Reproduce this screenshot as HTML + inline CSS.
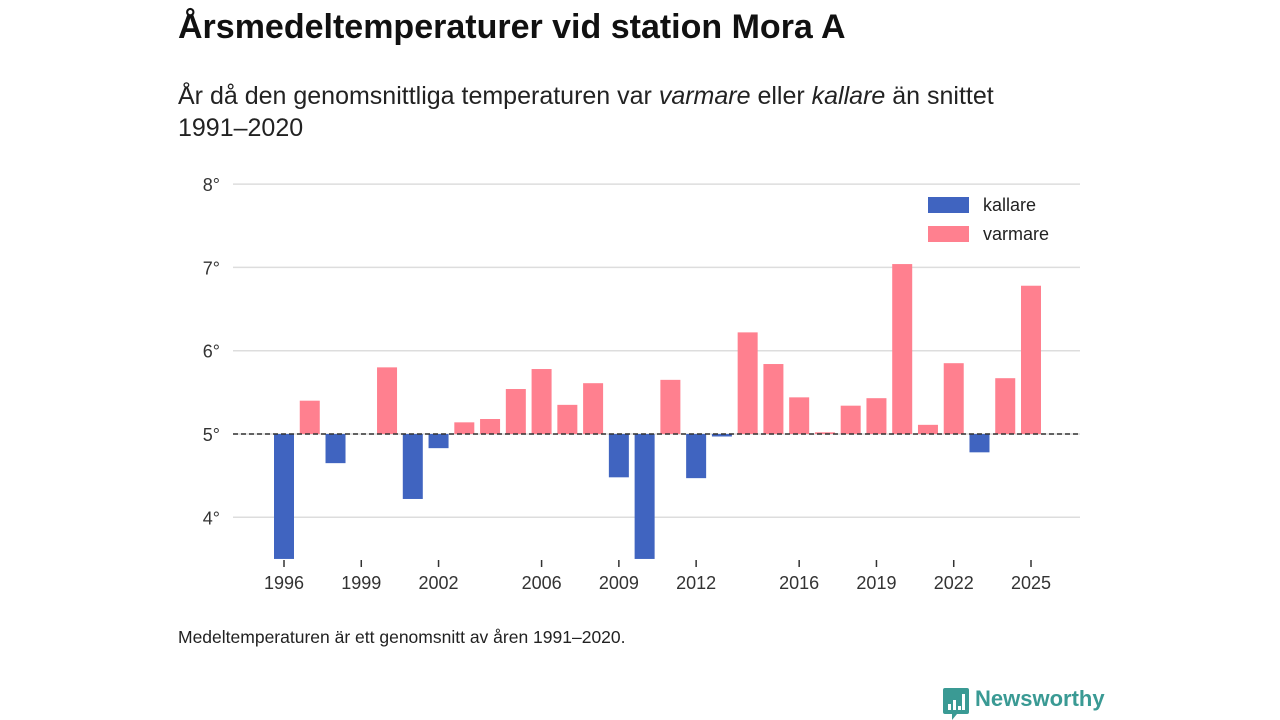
<!DOCTYPE html>
<html><head><meta charset="utf-8"><style>
body{margin:0;width:1280px;height:720px;background:#fff;font-family:"Liberation Sans","DejaVu Sans",sans-serif;color:#222;position:relative;overflow:hidden}
.t{position:absolute;left:178px;top:8px;font-size:34px;font-weight:bold;color:#111}
.s{position:absolute;left:178px;top:80px;font-size:25px;line-height:32px;color:#222;width:860px}
.f{position:absolute;left:178px;top:627px;font-size:17.5px;color:#222}
.logo{position:absolute;left:943px;top:688px;font-size:22px;font-weight:bold;color:#3a9a94;display:flex;align-items:center;gap:6px}
</style></head><body>
<div class="t">Årsmedeltemperaturer vid station Mora A</div>
<div class="s">År då den genomsnittliga temperaturen var <i>varmare</i> eller <i>kallare</i> än snittet 1991–2020</div>
<svg id="c" width="1280" height="720" style="position:absolute;left:0;top:0"></svg>
<div class="f">Medeltemperaturen är ett genomsnitt av åren 1991–2020.</div>
<div class="logo"><svg width="26" height="32" viewBox="0 0 26 32"><path d="M2 0h22a2 2 0 0 1 2 2v22a2 2 0 0 1-2 2H14l-5 6v-6H2a2 2 0 0 1-2-2V2a2 2 0 0 1 2-2z" fill="#3a9a94"/><rect x="5" y="16" width="3" height="6" fill="#fff"/><rect x="10" y="12" width="3" height="10" fill="#fff"/><rect x="15" y="18" width="3" height="4" fill="#fff"/><rect x="19" y="6" width="3" height="16" fill="#fff"/></svg><span style="font-family:'Liberation Sans',sans-serif;font-weight:bold;font-size:22px;margin-top:-10px">Newsworthy</span></div>
<script>
const years=[1996,1997,1998,1999,2000,2001,2002,2003,2004,2005,2006,2007,2008,2009,2010,2011,2012,2013,2014,2015,2016,2017,2018,2019,2020,2021,2022,2023,2024,2025];
const temps=[3.5,5.40,4.65,5.0,5.80,4.22,4.83,5.14,5.18,5.54,5.78,5.35,5.61,4.48,3.5,5.65,4.47,4.97,6.22,5.84,5.44,5.02,5.34,5.43,7.04,5.11,5.85,4.78,5.67,6.78];
const yTicks=[4,5,6,7,8];
const xTicks=[1996,1999,2002,2006,2009,2012,2016,2019,2022,2025];
const mean=5;
const NS="http://www.w3.org/2000/svg",svg=document.getElementById('c');
const x=yr=>284+(yr-1996)*(1031-284)/29;
const y=v=>434-(v-5)*83.3;
const yMin=3.5;
function mk(t,a){const e=document.createElementNS(NS,t);for(const k in a)e.setAttribute(k,a[k]);svg.appendChild(e);return e;}
yTicks.forEach(v=>{
 const g=mk('line',{x1:233,x2:1080,y1:y(v),y2:y(v),stroke:'#ddd','stroke-width':1.5});
 
 
 const t=mk('text',{x:220,y:y(v)+7,'text-anchor':'end','font-size':18,fill:'#333','font-family':'Liberation Sans, sans-serif'});
 t.textContent=v+'°';
 
 
});
years.forEach((yr,i)=>{
 const v=Math.max(temps[i],yMin);
 const top=Math.min(y(v),y(mean)),h=Math.abs(y(v)-y(mean));
 const r=mk('rect',{x:x(yr)-10,y:top,width:20,height:h,fill:temps[i]<mean?'#4064c0':'#ff808f'});
 
 
});
const ml=mk('line',{x1:233,x2:1080,y1:y(mean),y2:y(mean),stroke:'#333','stroke-width':1.5,'stroke-dasharray':'5,3'});


xTicks.forEach(yr=>{
 const l=mk('line',{x1:x(yr),x2:x(yr),y1:560,y2:567,stroke:'#333','stroke-width':1.5});
 
 
 const t=mk('text',{x:x(yr),y:589,'text-anchor':'middle','font-size':18,fill:'#333','font-family':'Liberation Sans, sans-serif'});
 t.textContent=yr;
 
 
});
[['kallare','#4064c0',197],['varmare','#ff808f',226]].forEach(([n,c,yy])=>{
 const r=mk('rect',{x:928,y:yy,width:41,height:16,fill:c});
 
 
 const t=mk('text',{x:983,y:yy+14,'font-size':18,fill:'#222','font-family':'Liberation Sans, sans-serif'});
 t.textContent=n;
 
 
});
</script>
</body></html>
